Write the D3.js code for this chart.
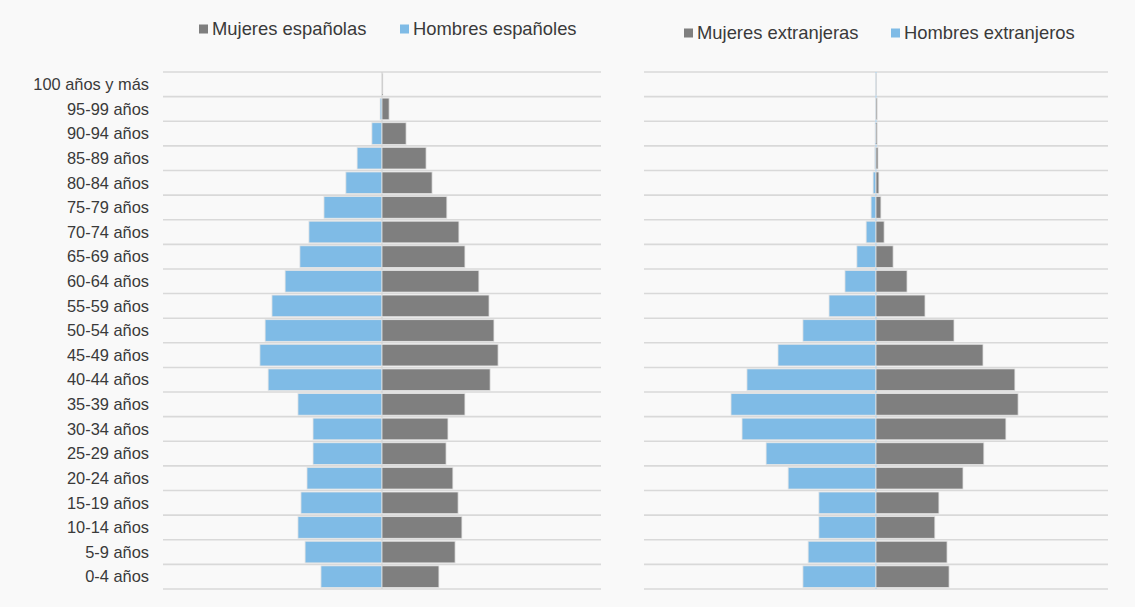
<!DOCTYPE html>
<html><head><meta charset="utf-8">
<script src="https://cdn.jsdelivr.net/npm/d3@7"></script>
<style>
html,body{margin:0;padding:0;background:#f9f9f9;}
svg{display:block;font-family:"Liberation Sans",Arial,sans-serif;}
</style></head><body>
<svg id="c" width="1135" height="607"></svg>
<script>
// Age groups, top to bottom
const ageGroups = ["100 años y más","95-99 años","90-94 años","85-89 años","80-84 años","75-79 años","70-74 años","65-69 años","60-64 años","55-59 años","50-54 años","45-49 años","40-44 años","35-39 años","30-34 años","25-29 años","20-24 años","15-19 años","10-14 años","5-9 años","0-4 años"];
// Spanish population (% estimates)
const hombresEspanoles = [0.02,0.07,0.37,0.91,1.32,2.12,2.67,3.00,3.54,4.02,4.27,4.46,4.16,3.07,2.52,2.52,2.74,2.96,3.07,2.81,2.23];
const mujeresEspanolas = [0.03,0.26,0.88,1.61,1.83,2.37,2.81,3.03,3.54,3.91,4.09,4.24,3.95,3.03,2.41,2.34,2.59,2.78,2.92,2.67,2.08];
// Foreign population (% estimates)
const hombresExtranjeros = [0.01,0.01,0.03,0.04,0.10,0.17,0.34,0.66,1.07,1.62,2.52,3.38,4.45,5.00,4.62,3.79,3.03,1.97,1.97,2.34,2.52];
const mujeresExtranjeras = [0.01,0.04,0.04,0.07,0.10,0.17,0.28,0.59,1.07,1.69,2.69,3.69,4.79,4.90,4.48,3.72,3.00,2.17,2.03,2.45,2.52];
const legendLeft = ["Mujeres españolas","Hombres españoles"];
const legendRight = ["Mujeres extranjeras","Hombres extranjeros"];
const axisMax = 8;

const COL_W = "#7f7f7f", COL_M = "#7fbbe6", TXT = "#3a3a3a";
const svg = d3.select("#c");
const y = d3.scaleBand().domain(ageGroups).range([72, 589]).paddingInner(0.12).paddingOuter(0.06);

function pyramid(x0, x1, men, women, axisColor, showLabels) {
  const x = d3.scaleLinear().domain([-axisMax, axisMax]).range([x0, x1]);
  const g = svg.append("g");
  const bounds = d3.range(ageGroups.length + 1).map(i => 72 + i * (517 / ageGroups.length));
  g.selectAll("line.grid").data(bounds).join("line")
    .attr("x1", x0).attr("x2", x1).attr("y1", d => d).attr("y2", d => d)
    .attr("stroke", "#d9d9d9").attr("stroke-width", 1.6);
  g.append("line").attr("x1", x(0)).attr("x2", x(0)).attr("y1", 72).attr("y2", 589)
    .attr("stroke", axisColor).attr("stroke-width", 1.5);
  g.selectAll("rect.m").data(ageGroups).join("rect")
    .attr("x", (d, i) => x(-men[i])).attr("width", (d, i) => x(0) - x(-men[i]))
    .attr("y", d => y(d)).attr("height", y.bandwidth())
    .attr("fill", COL_M).attr("stroke", "#e4e4e4").attr("stroke-width", 0.8);
  g.selectAll("rect.w").data(ageGroups).join("rect")
    .attr("x", x(0)).attr("width", (d, i) => x(women[i]) - x(0))
    .attr("y", d => y(d)).attr("height", y.bandwidth())
    .attr("fill", COL_W).attr("stroke", "#e4e4e4").attr("stroke-width", 0.8);
  if (showLabels) {
    const yl = d3.scalePoint().domain(ageGroups).range([72 + 517/42, 589 - 517/42]);
    const ax = d3.axisLeft(yl).tickSize(0).tickPadding(0);
    const a = svg.append("g").attr("transform", "translate(149,0)").call(ax);
    a.select(".domain").remove();
    a.selectAll("text").attr("fill", TXT).style("font-size", "16.4px")
      .style("font-family", '"Liberation Sans",Arial,sans-serif');
  }
}

pyramid(163, 601, hombresEspanoles, mujeresEspanolas, "#d4d4d4", true);
pyramid(644, 1108, hombresExtranjeros, mujeresExtranjeras, "#b7d8f1", false);

function legend(items, xs, cy) {
  const cols = [COL_W, COL_M];
  items.forEach((t, i) => {
    svg.append("rect").attr("x", xs[i]).attr("y", cy - 4.5).attr("width", 9).attr("height", 9).attr("fill", cols[i]);
    svg.append("text").attr("x", xs[i] + 13).attr("y", cy).attr("dy", "0.35em")
      .attr("fill", TXT).style("font-size", "18.4px").text(t);
  });
}
legend(legendLeft, [199, 400], 29);
legend(legendRight, [684, 891], 33);
</script>
</body></html>
